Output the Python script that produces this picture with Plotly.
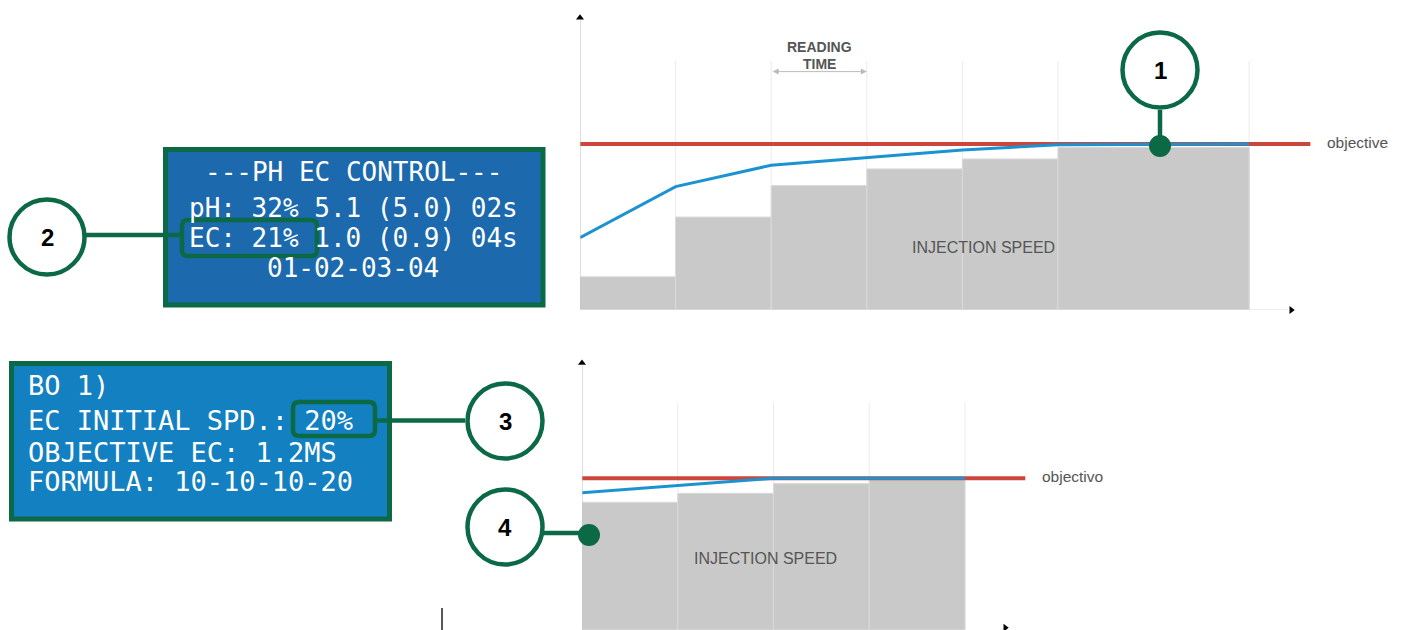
import plotly.graph_objects as go

# ---- data -------------------------------------------------------------
# top chart: dosing steps (reading intervals) and measured EC
TOP_STEP_EDGES = [0, 1, 2, 3, 4, 5, 7]
TOP_SPEED = [20, 56, 75, 85, 91, 98]          # injection speed per step
TOP_READ_X = [0, 1, 2, 3, 4, 5, 7]
TOP_EC = [43.6, 74.3, 87.2, 92, 96.4, 99.6, 100]
TOP_OBJECTIVE = 100
TOP_OBJ_END = 7.64

# bottom chart: starting at the initial speed
BOT_STEP_EDGES = [0, 1, 2, 3, 4]
BOT_SPEED = [84.2, 90.1, 96.5, 100]
BOT_READ_X = [0, 1, 2, 3, 4]
BOT_EC = [90.5, 95.5, 100, 100, 100]
BOT_OBJECTIVE = 100
BOT_OBJ_END = 4.63

LCD_MAIN = ["---PH EC CONTROL---", "pH: 32% 5.1 (5.0) 02s", "EC: 21% 1.0 (0.9) 04s", "01-02-03-04"]
LCD_CONF = ["BO 1)", "EC INITIAL SPD.: 20%", "OBJECTIVE EC: 1.2MS", "FORMULA: 10-10-10-20"]

# ---- style ------------------------------------------------------------
W, H = 1408, 630
GRAY = '#c9c9c9'
RED = '#cc463c'
BLUE = '#1b93d1'
GREEN = '#0b6a45'
LABEL = '#555555'


def px(x):
    return x / W


def py(y):
    return 1 - y / H


def centers(edges):
    return [(a + b) / 2 for a, b in zip(edges[:-1], edges[1:])]


def widths(edges):
    return [b - a for a, b in zip(edges[:-1], edges[1:])]


def rounded_rect(x0, y0, x1, y1, r):
    pts = [
        f"M{px(x0 + r)},{py(y0)}", f"L{px(x1 - r)},{py(y0)}", f"Q{px(x1)},{py(y0)} {px(x1)},{py(y0 + r)}",
        f"L{px(x1)},{py(y1 - r)}", f"Q{px(x1)},{py(y1)} {px(x1 - r)},{py(y1)}",
        f"L{px(x0 + r)},{py(y1)}", f"Q{px(x0)},{py(y1)} {px(x0)},{py(y1 - r)}",
        f"L{px(x0)},{py(y0 + r)}", f"Q{px(x0)},{py(y0)} {px(x0 + r)},{py(y0)}", "Z",
    ]
    return " ".join(pts)


fig = go.Figure()

for xa, ya, edges, speed, rx, ec, obj, obj_end in [
    ('x', 'y', TOP_STEP_EDGES, TOP_SPEED, TOP_READ_X, TOP_EC, TOP_OBJECTIVE, TOP_OBJ_END),
    ('x2', 'y2', BOT_STEP_EDGES, BOT_SPEED, BOT_READ_X, BOT_EC, BOT_OBJECTIVE, BOT_OBJ_END),
]:
    fig.add_trace(go.Bar(x=centers(edges), y=speed, width=widths(edges), xaxis=xa, yaxis=ya,
                         marker=dict(color=GRAY, line=dict(color='#dadada', width=1))))
    fig.add_trace(go.Scatter(x=[0, obj_end], y=[obj, obj], mode='lines', xaxis=xa, yaxis=ya,
                             line=dict(color=RED, width=4)))
    fig.add_trace(go.Scatter(x=rx, y=ec, mode='lines', xaxis=xa, yaxis=ya,
                             line=dict(color=BLUE, width=3)))
    # vertical reading-time grid lines
    for e in edges[1:]:
        fig.add_shape(type='line', xref=xa, yref=ya, x0=e, x1=e, y0=0, y1=150,
                      line=dict(color='#ececec', width=1), layer='below')

# axis lines with arrow tips
fig.add_shape(type='line', xref='x', yref='y', x0=0, x1=0, y0=0, y1=175, line=dict(color='#bdbdbd', width=1))
fig.add_shape(type='line', xref='x', yref='y', x0=0, x1=7.4, y0=0, y1=0, line=dict(color='#dddddd', width=1))
fig.add_shape(type='line', xref='x2', yref='y2', x0=0, x1=0, y0=0, y1=175, line=dict(color='#bdbdbd', width=1))
fig.add_trace(go.Scatter(x=[0], y=[176], mode='markers', marker=dict(symbol='triangle-up', size=7, color='black'),
                         cliponaxis=False))
fig.add_trace(go.Scatter(x=[7.44], y=[0], mode='markers', marker=dict(symbol='triangle-right', size=7, color='black'),
                         cliponaxis=False))
fig.add_trace(go.Scatter(x=[0], y=[176], mode='markers', xaxis='x2', yaxis='y2',
                         marker=dict(symbol='triangle-up', size=7, color='black'), cliponaxis=False))
fig.add_trace(go.Scatter(x=[4.42], y=[1.5], mode='markers', xaxis='x2', yaxis='y2',
                         marker=dict(symbol='triangle-right', size=7, color='black'), cliponaxis=False))

# reading time arrow
fig.add_annotation(x=3, y=143.6, ax=2, ay=143.6, xref='x', yref='y', axref='x', ayref='y', text='',
                   showarrow=True, arrowside='end+start', arrowhead=2, arrowsize=1.2, arrowwidth=1,
                   arrowcolor='#bbbbbb')
lab = dict(family='Arial', size=14, color=LABEL)
fig.add_annotation(x=2.5, y=(310 - 46.5) / 1.66, xref='x', yref='y', text='<b>READING</b>', showarrow=False,
                   font=lab)
fig.add_annotation(x=2.5, y=(310 - 64) / 1.66, xref='x', yref='y', text='<b>TIME</b>', showarrow=False, font=lab)
inj = dict(family='Arial', size=16, color=LABEL)
fig.add_annotation(x=4.22, y=37.5, xref='x', yref='y', text='INJECTION SPEED', showarrow=False, font=inj)
fig.add_annotation(x=1.92, y=47.3, xref='x2', yref='y2', text='INJECTION SPEED', showarrow=False, font=inj)
obj_font = dict(family='Arial', size=15.5, color=LABEL)
fig.add_annotation(x=7.79, y=TOP_OBJECTIVE, yshift=2, xref='x', yref='y', text='objective', showarrow=False,
                   xanchor='left', font=obj_font)
fig.add_annotation(x=4.78, y=BOT_OBJECTIVE, yshift=2, xref='x2', yref='y2', text='objectivo', showarrow=False,
                   xanchor='left', font=obj_font)

# LCD panels
fig.add_shape(type='rect', xref='paper', yref='paper', x0=px(165.5), x1=px(543), y0=py(305), y1=py(149.5),
              fillcolor='#1c6aad', line=dict(color=GREEN, width=5), layer='above')
fig.add_shape(type='rect', xref='paper', yref='paper', x0=px(11.5), x1=px(389.5), y0=py(519), y1=py(363.5),
              fillcolor='#1380c1', line=dict(color=GREEN, width=5), layer='above')
for line, yy in zip(LCD_MAIN, [172, 208, 238, 268]):
    fig.add_annotation(x=px(353), y=py(yy), xref='paper', yref='paper', text=line, showarrow=False,
                       xanchor='center', yanchor='middle',
                       font=dict(family='DejaVu Sans Mono', size=26, color='white'))
for line, yy in zip(LCD_CONF, [385, 420, 452, 482]):
    fig.add_annotation(x=px(26), y=py(yy), xref='paper', yref='paper', text=line, showarrow=False,
                       xanchor='left', yanchor='middle',
                       font=dict(family='DejaVu Sans Mono', size=27, color='white'))
fig.add_shape(type='path', xref='paper', yref='paper', path=rounded_rect(182, 220, 317, 256, 6),
              line=dict(color=GREEN, width=4.5), layer='above')
fig.add_shape(type='path', xref='paper', yref='paper', path=rounded_rect(293, 402, 375, 436, 6),
              line=dict(color=GREEN, width=4.5), layer='above')

# numbered callouts
callouts = [('1', 1160, 70), ('2', 47, 237), ('3', 505, 421), ('4', 505, 527)]
connectors = [(1160, 110, 1160, 146), (86, 235, 182, 235), (375, 420.5, 465, 420.5), (544, 533, 589, 533)]
for x0, y0, x1, y1 in connectors:
    fig.add_shape(type='line', xref='paper', yref='paper', x0=px(x0), y0=py(y0), x1=px(x1), y1=py(y1),
                  line=dict(color=GREEN, width=4.5), layer='above')
for cx, cy in [(1160, 146), (589, 535)]:
    fig.add_shape(type='circle', xref='paper', yref='paper', x0=px(cx - 11), x1=px(cx + 11),
                  y0=py(cy + 11), y1=py(cy - 11), fillcolor=GREEN, line=dict(color=GREEN, width=0), layer='above')
for num, cx, cy in callouts:
    r = 37.5
    fig.add_shape(type='circle', xref='paper', yref='paper', x0=px(cx - r), x1=px(cx + r),
                  y0=py(cy + r), y1=py(cy - r), fillcolor='white', line=dict(color=GREEN, width=4.5), layer='above')
    fig.add_annotation(x=px(cx), y=py(cy), xref='paper', yref='paper', text=f'<b>{num}</b>', showarrow=False,
                       xanchor='center', yanchor='middle',
                       font=dict(family='Arial', size=24, color='black'))

# stray cursor mark
fig.add_shape(type='line', xref='paper', yref='paper', x0=px(442), x1=px(442), y0=py(630), y1=py(608),
              line=dict(color='#222222', width=1.5), layer='above')

hidden = dict(visible=False, showgrid=False, zeroline=False, fixedrange=True)
fig.update_layout(
    width=W, height=H, autosize=False,
    margin=dict(l=0, r=0, t=0, b=0),
    plot_bgcolor='white', paper_bgcolor='white',
    showlegend=False, barmode='overlay',
    xaxis=dict(hidden, domain=[px(580), 1], range=[0, (W - 580) / 95.6], anchor='y'),
    yaxis=dict(hidden, domain=[py(310), 1], range=[0, 310 / 1.66], anchor='x'),
    xaxis2=dict(hidden, domain=[px(582), 1], range=[0, (W - 582) / 95.75], anchor='y2'),
    yaxis2=dict(hidden, domain=[0, py(340)], range=[0, 290 / 1.517], anchor='x2'),
)

fig.write_html("out.html", config={'displayModeBar': False},
               post_script="document.body.style.margin='0';document.body.style.overflow='hidden';")
